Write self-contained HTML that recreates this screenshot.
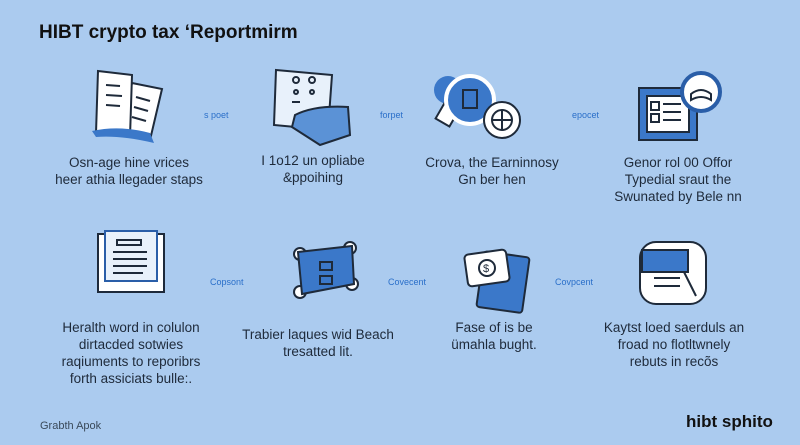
<!DOCTYPE html>
<html><head><meta charset="utf-8"><style>
body{margin:0;width:800px;height:445px;background:#abcbef;position:relative;overflow:hidden;font-family:"Liberation Sans",sans-serif;color:#1e2a3a}
.t{position:absolute;font-size:13.5px;line-height:17px;text-align:center;white-space:nowrap;transform:translateX(-50%)}
.c{position:absolute;font-size:9px;color:#2a6fc9;white-space:nowrap}
svg{position:absolute}
</style></head><body>
<div style="position:absolute;left:39px;top:22px;font-size:19px;font-weight:bold;color:#111">HIBT crypto tax ‘Reportmirm</div>

<!-- row1 icons -->
<svg left="0" style="left:90px;top:65px" width="80" height="85"><g stroke="#1e2a3a" stroke-width="2" fill="#fff"><path d="M42 18 L72 24 L60 75 L30 70Z"/><path d="M8 6 L42 10 L40 72 L6 68Z"/></g><g stroke="#1e2a3a" stroke-width="2"><line x1="16" y1="20" x2="30" y2="21"/><line x1="16" y1="30" x2="32" y2="31"/><line x1="16" y1="40" x2="30" y2="41"/><line x1="46" y1="32" x2="60" y2="36"/><line x1="44" y1="42" x2="58" y2="46"/><line x1="42" y1="52" x2="56" y2="56"/></g><path d="M2 66 Q30 60 60 68 L64 78 Q30 70 6 72Z" fill="#3b78c9"/></svg>
<svg style="left:270px;top:65px" width="85" height="85"><path d="M6 5 L62 10 L58 65 L4 60Z" fill="#e8f1fb" stroke="#1e2a3a" stroke-width="2"/><g fill="none" stroke="#1e2a3a" stroke-width="2"><circle cx="26" cy="15" r="3"/><circle cx="42" cy="15" r="3"/><circle cx="26" cy="27" r="2"/><circle cx="42" cy="27" r="2"/><line x1="22" y1="37" x2="30" y2="37"/></g><path d="M25 50 Q45 40 78 42 L80 70 L50 80 L22 62Z" fill="#5b92d6" stroke="#1e2a3a" stroke-width="2"/></svg>
<svg style="left:430px;top:68px" width="110" height="80"><circle cx="18" cy="22" r="14" fill="#3b78c9"/><rect x="10" y="34" width="16" height="22" fill="#fff" stroke="#1e2a3a" stroke-width="2" transform="rotate(30 18 45)"/><circle cx="40" cy="32" r="24" fill="#3b78c9" stroke="#fff" stroke-width="4"/><rect x="33" y="22" width="14" height="18" fill="none" stroke="#1e2a3a" stroke-width="2"/><circle cx="72" cy="52" r="18" fill="#fff" stroke="#1e2a3a" stroke-width="2"/><circle cx="72" cy="52" r="10" fill="none" stroke="#1e2a3a" stroke-width="2"/><line x1="62" y1="52" x2="82" y2="52" stroke="#1e2a3a" stroke-width="2"/><line x1="72" y1="42" x2="72" y2="62" stroke="#1e2a3a" stroke-width="2"/></svg>
<svg style="left:635px;top:70px" width="95" height="75"><rect x="4" y="18" width="58" height="52" fill="#3b78c9" stroke="#1e2a3a" stroke-width="2"/><rect x="12" y="26" width="42" height="36" fill="#fff" stroke="#1e2a3a" stroke-width="2"/><g stroke="#1e2a3a" stroke-width="2"><line x1="28" y1="34" x2="46" y2="34"/><line x1="28" y1="42" x2="46" y2="42"/><line x1="28" y1="50" x2="46" y2="50"/><rect x="16" y="32" width="8" height="8" fill="none"/><rect x="16" y="44" width="8" height="8" fill="none"/></g><circle cx="66" cy="22" r="19" fill="#fff" stroke="#2a5ea8" stroke-width="4"/><path d="M56 24 Q66 16 76 24 L76 30 Q66 24 56 30Z" fill="none" stroke="#1e2a3a" stroke-width="2"/></svg>

<div class="c" style="left:204px;top:110px">s poet</div>
<div class="c" style="left:380px;top:110px">forpet</div>
<div class="c" style="left:572px;top:110px">epocet</div>

<div class="t" style="left:129px;top:154px">Osn-age hine vrices<br>heer athia llegader staps</div>
<div class="t" style="left:313px;top:152px">I 1o12 un opliabe<br>&amp;ppoihing</div>
<div class="t" style="left:492px;top:154px">Crova, the Earninnosy<br>Gn ber hen</div>
<div class="t" style="left:678px;top:154px">Genor rol 00 Offor<br>Typedial sraut the<br>Swunated by Bele nn</div>

<!-- row2 icons -->
<svg style="left:95px;top:228px" width="75" height="68"><rect x="3" y="6" width="66" height="58" fill="#fff" stroke="#1e2a3a" stroke-width="2"/><rect x="10" y="3" width="52" height="50" fill="#e8f1fb" stroke="#2a5ea8" stroke-width="2"/><g stroke="#1e2a3a" stroke-width="2"><rect x="22" y="12" width="24" height="5" fill="none"/><line x1="18" y1="24" x2="52" y2="24"/><line x1="18" y1="31" x2="52" y2="31"/><line x1="18" y1="38" x2="52" y2="38"/><line x1="18" y1="45" x2="48" y2="45"/></g></svg>
<svg style="left:290px;top:240px" width="75" height="65"><g fill="#fff" stroke="#1e2a3a" stroke-width="2"><circle cx="10" cy="14" r="6"/><circle cx="60" cy="8" r="6"/><circle cx="10" cy="52" r="6"/><circle cx="62" cy="44" r="6"/></g><path d="M8 12 L62 6 L64 44 L12 54Z" fill="#3b78c9" stroke="#1e2a3a" stroke-width="2"/><path d="M30 22 h12 v8 h-12z M30 36 h12 v8 h-12z" fill="none" stroke="#1e2a3a" stroke-width="2"/></svg>
<svg style="left:462px;top:240px" width="75" height="75"><rect x="18" y="14" width="46" height="56" rx="3" fill="#3b78c9" stroke="#1e2a3a" stroke-width="2" transform="rotate(8 40 42)"/><rect x="4" y="12" width="42" height="32" rx="4" fill="#fff" stroke="#1e2a3a" stroke-width="2" transform="rotate(-8 25 28)"/><circle cx="25" cy="28" r="8" fill="none" stroke="#1e2a3a" stroke-width="2"/><text x="21" y="32" font-size="11" font-family="Liberation Sans" fill="#1e2a3a">$</text></svg>
<svg style="left:638px;top:240px" width="75" height="70"><rect x="2" y="2" width="66" height="62" rx="16" fill="#fff" stroke="#1e2a3a" stroke-width="2"/><rect x="4" y="10" width="46" height="22" fill="#3b78c9" stroke="#1e2a3a" stroke-width="2"/><g stroke="#1e2a3a" stroke-width="2"><line x1="16" y1="38" x2="42" y2="38"/><line x1="16" y1="46" x2="42" y2="46"/><line x1="46" y1="32" x2="58" y2="56"/></g></svg>

<div class="c" style="left:210px;top:277px">Copsont</div>
<div class="c" style="left:388px;top:277px">Covecent</div>
<div class="c" style="left:555px;top:277px">Covpcent</div>

<div class="t" style="left:131px;top:319px">Heralth word in colulon<br>dirtacded sotwies<br>raqiuments to reporibrs<br>forth assiciats bulle:.</div>
<div class="t" style="left:318px;top:326px">Trabier laques wid Beach<br>tresatted lit.</div>
<div class="t" style="left:494px;top:319px">Fase of is be<br>ümahla bught.</div>
<div class="t" style="left:674px;top:319px">Kaytst loed saerduls an<br>froad no flotltwnely<br>rebuts in recõs</div>

<div style="position:absolute;left:40px;top:420px;font-size:11px;color:#3a4a5a">Grabth Apok</div>
<div style="position:absolute;left:686px;top:412px;font-size:17px;font-weight:bold;color:#111">hibt sphito</div>
</body></html>
